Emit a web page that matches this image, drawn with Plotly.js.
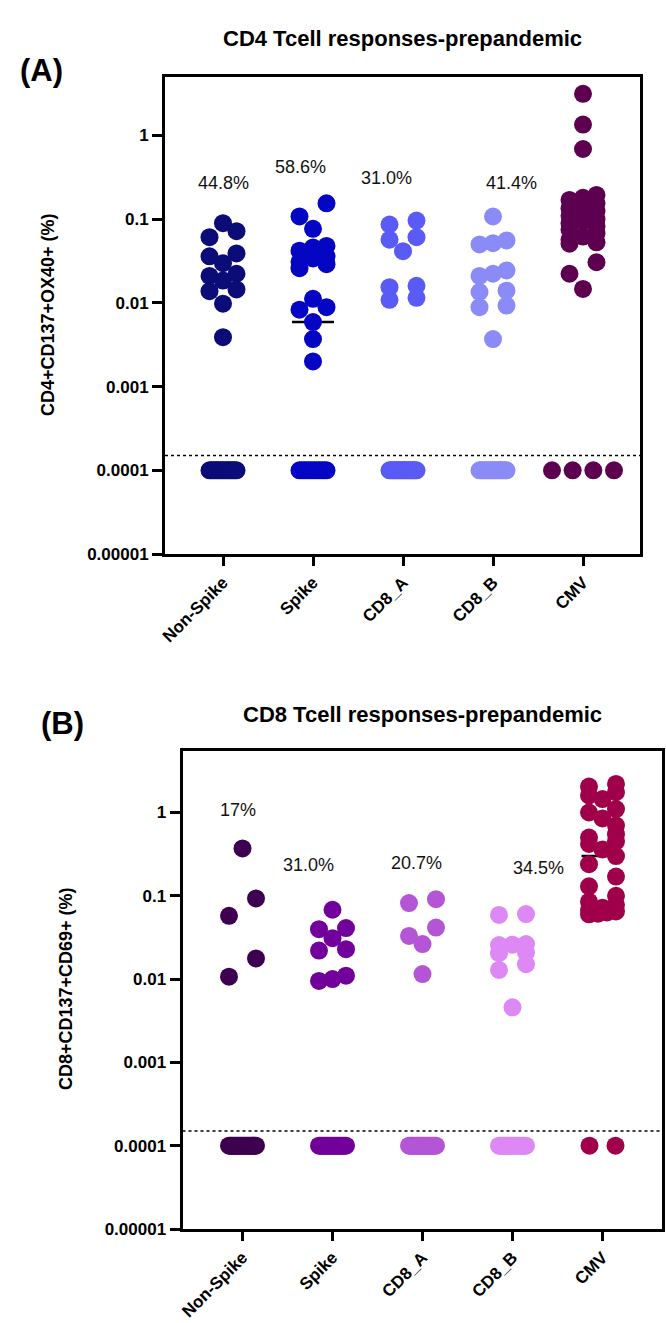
<!DOCTYPE html>
<html><head><meta charset="utf-8">
<script src="https://cdn.plot.ly/plotly-3.0.1.min.js"></script>
<style>html,body{margin:0;padding:0;background:#fff}#chart{width:666px;height:1323px}</style>
</head><body><div id="chart"></div>
<script>
// ---------------- data ----------------
const categories = ['Non-Spike', 'Spike', 'CD8_A', 'CD8_B', 'CMV'];
const yTickVals = [0.00001, 0.0001, 0.001, 0.01, 0.1, 1];
const yTickText = ['0.00001', '0.0001', '0.001', '0.01', '0.1', '1'];
const zeroValue = 0.0001;       // non-responders plotted at 0.0001
const thresholdValue = 0.00015; // dotted cut-off line

// Panel A: CD4+CD137+OX40+ (%) responders
const cd4NonSpike = [0.0895, 0.072, 0.061, 0.039, 0.036, 0.0298, 0.0223, 0.021, 0.0185, 0.0145, 0.0138, 0.0098, 0.0039];
const cd4Spike = [0.155, 0.108, 0.0767, 0.048, 0.046, 0.042, 0.036, 0.034, 0.031, 0.029, 0.026, 0.0112, 0.0089, 0.0083, 0.0059, 0.0037, 0.002];
const cd4CD8A = [0.0964, 0.0864, 0.061, 0.057, 0.0415, 0.016, 0.0154, 0.0115, 0.0109];
const cd4CD8B = [0.1077, 0.0557, 0.0517, 0.05, 0.0244, 0.0223, 0.021, 0.014, 0.0135, 0.0093, 0.0089, 0.0037];
const cd4CMV = [3.15, 1.35, 0.69, 0.195, 0.18, 0.17, 0.155, 0.145, 0.135, 0.125, 0.115, 0.11, 0.1, 0.095, 0.089, 0.082, 0.075, 0.068, 0.062, 0.057, 0.053, 0.051, 0.0306, 0.0223, 0.0147];
const cd4ZeroCounts = [16, 12, 20, 17, 4];
const cd4Percents = ['44.8%', '58.6%', '31.0%', '41.4%'];
const cd4Colors = ['#0c0c78', '#0505c4', '#5a5af6', '#8b8bf8', '#5e0050'];

// Panel B: CD8+CD137+CD69+ (%) responders
const cd8NonSpike = [0.37, 0.093, 0.0575, 0.0177, 0.0107];
const cd8Spike = [0.068, 0.041, 0.0398, 0.031, 0.0229, 0.022, 0.011, 0.0100, 0.0095];
const cd8CD8A = [0.0912, 0.0817, 0.0416, 0.033, 0.0263, 0.0115];
const cd8CD8B = [0.0603, 0.059, 0.0263, 0.0259, 0.0256, 0.0209, 0.0205, 0.0151, 0.0129, 0.00458];
const cd8CMV = [2.2, 2.05, 1.75, 1.6, 1.45, 1.1, 1.0, 0.85, 0.7, 0.55, 0.5, 0.45, 0.42, 0.36, 0.3, 0.24, 0.17, 0.13, 0.1, 0.085, 0.078, 0.072, 0.068, 0.065, 0.063, 0.061, 0.06];
const cd8ZeroCounts = [24, 20, 23, 19, 2];
const cd8Percents = ['17%', '31.0%', '20.7%', '34.5%'];
const cd8Colors = ['#3e0050', '#72009a', '#b455d6', '#dd88f5', '#a0004a'];

// ---------------- layout geometry (pixels) ----------------
const W = 666, H = 1323;
const FONT = 'Liberation Sans, Arial, Helvetica, sans-serif';
const panels = [
  { key: '', groups: [cd4NonSpike, cd4Spike, cd4CD8A, cd4CD8B, cd4CMV], zeros: cd4ZeroCounts,
    colors: cd4Colors, percents: cd4Percents,
    left: 165, right: 640, top: 77, bottom: 554, firstCat: 223, catPx: 90, decadePx: 83.7,
    title: 'CD4 Tcell responses-prepandemic', titleX: 402, titleY: 39,
    tag: '(A)', tagX: 42, tagY: 70,
    ytitle: 'CD4+CD137+OX40+ (%)', ytitleX: 48, ytitleY: 315,
    pctPos: [[223, 183], [300, 167], [386.5, 178], [511.5, 183]] },
  { key: '2', groups: [cd8NonSpike, cd8Spike, cd8CD8A, cd8CD8B, cd8CMV], zeros: cd8ZeroCounts,
    colors: cd8Colors, percents: cd8Percents,
    left: 182.5, right: 662, top: 751, bottom: 1229, firstCat: 242.5, catPx: 90, decadePx: 83.3,
    title: 'CD8 Tcell responses-prepandemic', titleX: 423, titleY: 714,
    tag: '(B)', tagX: 62, tagY: 723,
    ytitle: 'CD8+CD137+CD69+ (%)', ytitleX: 66, ytitleY: 989,
    pctPos: [[238, 810], [308, 865], [416, 863], [538, 868]] }
];

// Prism-like column scatter: rows of near-equal values spread symmetrically,
// isolated points centred, close singles paired left/right.
function swarmOffsets(vals, decadePx) {
  const STEP = 13.5, ROW = 6.5, PAIR = 19, MIND = 15;
  const order = vals.map((v, i) => i).sort((a, b) => vals[b] - vals[a]);
  const rows = [];
  order.forEach(idx => {
    const y = -Math.log10(vals[idx]) * decadePx;
    const last = rows[rows.length - 1];
    if (last && y - last.y0 < ROW) last.items.push({ idx, y });
    else rows.push({ y0: y, items: [{ idx, y }] });
  });
  const out = new Array(vals.length), placed = [];
  const minDist = (x, y) => placed.reduce((m, p) => Math.min(m, Math.hypot(p.x - x, p.y - y)), Infinity);
  for (let r = 0; r < rows.length; r++) {
    const row = rows[r];
    const n = row.items.length;
    if (n >= 2) {
      row.items.forEach((it, j) => { const x = STEP - 2 * STEP * j / (n - 1); out[it.idx] = x; placed.push({ x, y: it.y }); });
      continue;
    }
    const it = row.items[0];
    const next = rows[r + 1];
    if (next && next.items.length === 1 && next.items[0].y - it.y < PAIR &&
        minDist(STEP, it.y) >= MIND && minDist(-STEP, next.items[0].y) >= MIND) {
      out[it.idx] = STEP; placed.push({ x: STEP, y: it.y });
      out[next.items[0].idx] = -STEP; placed.push({ x: -STEP, y: next.items[0].y });
      r++;
      continue;
    }
    let best = 0, bestD = -1;
    for (const x of [0, STEP, -STEP]) {
      const md = minDist(x, it.y);
      if (md >= MIND) { best = x; break; }
      if (md > bestD) { bestD = md; best = x; }
    }
    out[it.idx] = best; placed.push({ x: best, y: it.y });
  }
  return out;
}
function zeroOffsets(n) {
  if (n <= 1) return n ? [0] : [];
  const span = n <= 4 ? Math.min((n - 1) * 26, 62) : 27;
  const o = [];
  for (let k = 0; k < n; k++) o.push(-span / 2 + span * k / (n - 1));
  return o;
}
function median(arr) {
  const s = arr.slice().sort((a, b) => a - b);
  const n = s.length;
  return n % 2 ? s[(n - 1) / 2] : (s[n / 2 - 1] + s[n / 2]) / 2;
}

const traces = [], annotations = [];
const layout = {
  width: W, height: H, margin: { l: 0, r: 0, t: 0, b: 0 },
  paper_bgcolor: '#ffffff', plot_bgcolor: '#ffffff', showlegend: false,
  font: { family: FONT, color: '#000' }, annotations
};

panels.forEach(p => {
  const xr = [(p.left - p.firstCat) / p.catPx, (p.right - p.firstCat) / p.catPx];
  const yr = [-5, -5 + (p.bottom - p.top) / p.decadePx];
  const xa = 'x' + p.key, ya = 'y' + p.key;
  layout['xaxis' + p.key] = {
    domain: [p.left / W, p.right / W], range: xr, anchor: ya,
    tickvals: categories.map((c, i) => i), ticktext: categories.map(c => '<b>' + c + '</b>'),
    tickangle: -45, ticks: 'outside', ticklen: 9, tickwidth: 3, tickcolor: '#000',
    showline: true, linewidth: 3, linecolor: '#000', mirror: true,
    showgrid: false, zeroline: false, tickfont: { family: FONT, size: 17, color: '#000' }
  };
  layout['yaxis' + p.key] = {
    type: 'log', domain: [1 - p.bottom / H, 1 - p.top / H], range: yr, anchor: xa,
    tickvals: yTickVals, ticktext: yTickText.map(t => '<b>' + t + '</b>'),
    ticks: 'outside', ticklen: 10, tickwidth: 3, tickcolor: '#000',
    showline: true, linewidth: 3, linecolor: '#000', mirror: true,
    showgrid: false, zeroline: false, tickfont: { family: FONT, size: 17, color: '#000' }
  };
  traces.push({ type: 'scatter', mode: 'lines', xaxis: xa, yaxis: ya, x: xr, y: [thresholdValue, thresholdValue],
    line: { color: '#000', width: 1.6, dash: 'dot' }, hoverinfo: 'skip' });
  p.groups.forEach((g, i) => {
    const all = g.concat(new Array(p.zeros[i]).fill(zeroValue));
    const m = median(all);
    const hw = 21 / p.catPx;
    traces.push({ type: 'scatter', mode: 'lines', xaxis: xa, yaxis: ya, x: [i - hw, i + hw], y: [m, m],
      line: { color: '#000', width: 2.5 }, hoverinfo: 'skip' });
  });
  p.groups.forEach((g, i) => {
    const offs = swarmOffsets(g, p.decadePx).concat(zeroOffsets(p.zeros[i]));
    const xs = offs.map(o => i + o / p.catPx);
    const ys = g.concat(new Array(p.zeros[i]).fill(zeroValue));
    traces.push({ type: 'scatter', mode: 'markers', xaxis: xa, yaxis: ya, x: xs, y: ys, name: categories[i],
      marker: { color: p.colors[i], size: 18, line: { width: 0 } }, cliponaxis: false });
  });
  annotations.push({ xref: 'paper', yref: 'paper', x: p.titleX / W, y: 1 - p.titleY / H, xanchor: 'center', yanchor: 'middle',
    text: '<b>' + p.title + '</b>', showarrow: false, font: { family: FONT, size: 22, color: '#000' } });
  annotations.push({ xref: 'paper', yref: 'paper', x: p.tagX / W, y: 1 - p.tagY / H, xanchor: 'center', yanchor: 'middle',
    text: '<b>' + p.tag + '</b>', showarrow: false, font: { family: FONT, size: 31, color: '#000' } });
  annotations.push({ xref: 'paper', yref: 'paper', x: p.ytitleX / W, y: 1 - p.ytitleY / H, xanchor: 'center', yanchor: 'middle',
    text: '<b>' + p.ytitle + '</b>', textangle: -90, showarrow: false, font: { family: FONT, size: 18, color: '#000' } });
  p.percents.forEach((t, i) => {
    annotations.push({ xref: 'paper', yref: 'paper', x: p.pctPos[i][0] / W, y: 1 - p.pctPos[i][1] / H,
      xanchor: 'center', yanchor: 'middle', text: t, showarrow: false, font: { family: FONT, size: 18, color: '#111' } });
  });
});

Plotly.newPlot('chart', traces, layout, { staticPlot: true, displayModeBar: false });
</script>
</body></html>
